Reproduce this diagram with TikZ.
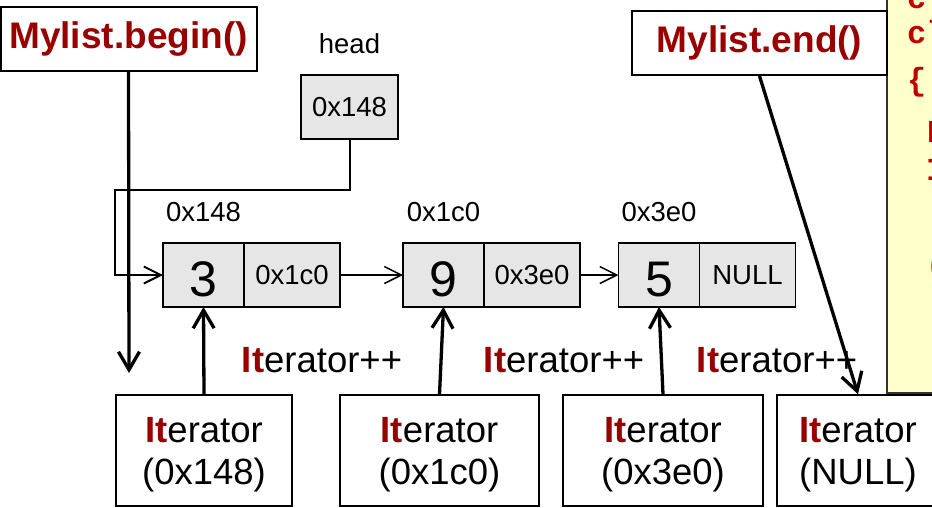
\documentclass[tikz,border=0pt]{standalone}
\usepackage{fontspec}
\setmainfont{Liberation Sans}
\setmonofont{Liberation Mono}
\usetikzlibrary{positioning,arrows.meta}
\definecolor{itred}{RGB}{153,0,0}
\definecolor{codered}{RGB}{192,0,0}
\definecolor{cellgray}{RGB}{230,230,230}
\definecolor{notepad}{RGB}{255,255,204}
\newcommand{\It}{\textcolor{itred}{\textbf{It}}}
\tikzset{
  cell/.style={draw, fill=cellgray, line width=1.3pt, inner sep=0pt, outer sep=0pt, minimum height=64pt, font=\fontsize{27.5}{30}\selectfont},
  valcell/.style={cell, minimum width=81pt, font=\fontsize{50}{55}\selectfont, text height=43.4pt, text depth=0pt},
  ptrcell/.style={cell, minimum width=96pt},
  addr/.style={inner sep=0pt, font=\fontsize{27.5}{30}\selectfont},
  callbox/.style={draw, line width=2pt, fill=white, inner sep=0pt, minimum height=64pt, text=itred, font=\fontsize{37}{40}\selectfont\bfseries},
  iterbox/.style={draw, line width=1.5pt, inner sep=0pt, minimum height=111pt, align=center, text depth=0pt, font=\fontsize{36.5}{42}\selectfont},
  inclabel/.style={inner sep=0pt, anchor=base, font=\fontsize{36.5}{42}\selectfont},
  codeline/.style={inner sep=0pt, anchor=base west, text=codered, font=\fontsize{32}{36}\selectfont\ttfamily\bfseries},
  link/.style={line width=1.5pt, -{Straight Barb[length=17pt,width=17pt]}},
  bigarrow/.style={line width=3.3pt, -{Straight Barb[length=18pt,width=21pt]}}
}
\begin{document}
\begin{tikzpicture}[x=1pt, y=-1pt]
\useasboundingbox (0,0) rectangle (932,507);
\clip (0,0) rectangle (932,507);
\draw [fill=notepad, draw=black!80, line width=1.3pt] (887,-10) rectangle (960,393);
\node [codeline] (code1) at (907,8) {c};
\node [codeline] (code2) at (907,43) {cl};
\node [codeline] (code3) at (907,90) {\{};
\node [codeline] (code4) at (927,142) {P};
\node [codeline] (code5) at (926,180) {I};
\node [codeline] (code6) at (926,275) {(};
\node [callbox, minimum width=256pt] (begin) at (128.5,39) {Mylist.begin()};
\node [callbox, minimum width=255pt] (endcall) at (759.5,43) {Mylist.end()};
\node [cell, minimum width=97pt] (headbox) at (349.5,107) {0x148};
\node [addr, above=21pt of headbox] (headlabel) {head};
\node [valcell] (n1) at (203.5,275) {3};
\node [ptrcell, right=0pt of n1] (p1) {0x1c0};
\node [valcell] (n2) at (443.5,275) {9};
\node [ptrcell, right=0pt of n2] (p2) {0x3e0};
\node [valcell] (n3) at (659,275) {5};
\node [ptrcell, right=0pt of n3] (p3) {NULL};
\node [addr, above=21pt of n1] (a1) {0x148};
\node [addr, above=21pt of n2] (a2) {0x1c0};
\node [addr, above=21pt of n3] (a3) {0x3e0};
\node [inclabel] (inc1) at (322,372) {\It erator++};
\node [inclabel] (inc2) at (564,372) {\It erator++};
\node [inclabel] (inc3) at (777,372) {\It erator++};
\node [iterbox, minimum width=176pt] (it1) at (204,450.5) {\It erator\\(0x148)};
\node [iterbox, minimum width=199pt] (it2) at (439.5,450.5) {\It erator\\(0x1c0)};
\node [iterbox, minimum width=200pt] (it3) at (663,450.5) {\It erator\\(0x3e0)};
\node [iterbox, minimum width=162pt] (it4) at (858,450.5) {\It erator\\(NULL)};
\coordinate (bend) at (115,190);
\coordinate (bgtip) at (129,373);
\draw [link, line width=2pt] (headbox.south) |- (bend) |- (n1.west);
\draw [link] (p1.east) -- (n2.west);
\draw [link] (p2.east) -- (n3.west);
\draw [bigarrow] (begin.south) -- (bgtip);
\draw [bigarrow] (endcall.south) -- (it4.north);
\draw [bigarrow] (it1.north) -- (n1.south);
\draw [bigarrow] (it2.north) -- (n2.south);
\draw [bigarrow] (it3.north) -- (n3.south);
\end{tikzpicture}
\end{document}
